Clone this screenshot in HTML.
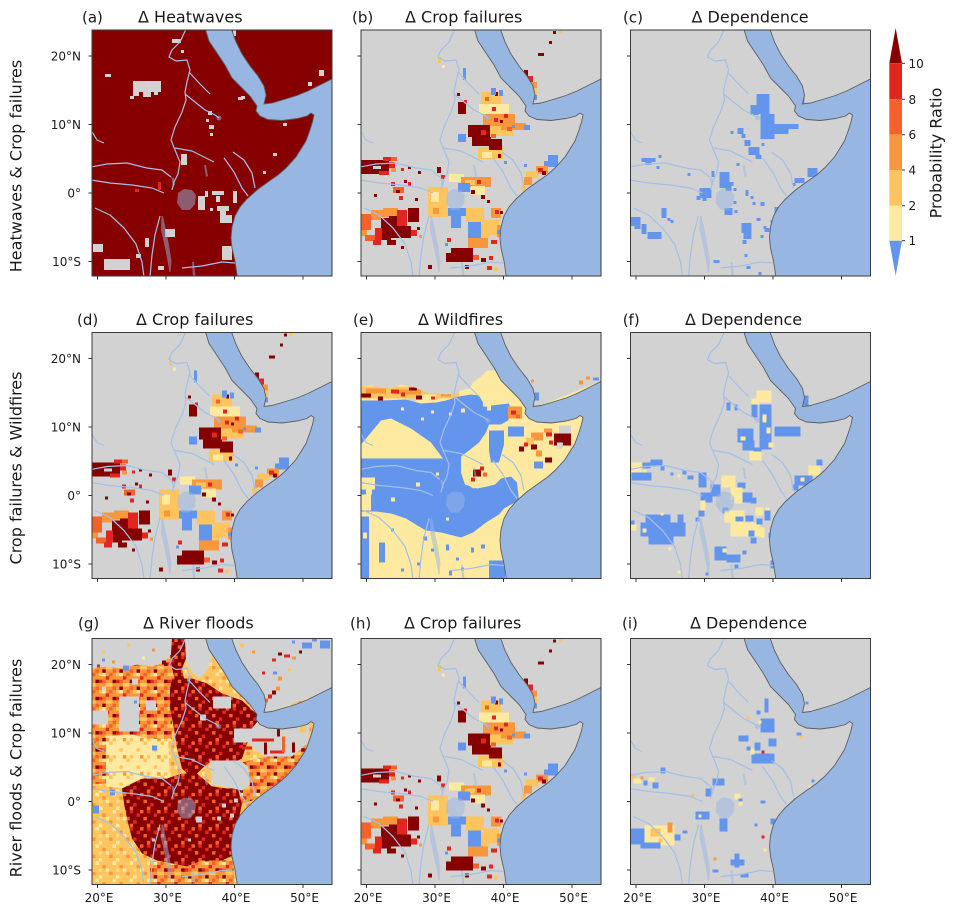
<!DOCTYPE html>
<html><head><meta charset="utf-8">
<style>
html,body{margin:0;padding:0;background:#fff;}
svg{display:block;}
text{font-family:"DejaVu Sans","Liberation Sans",sans-serif;fill:#1a1a1a;}
.D{fill:#870000}.R{fill:#e0261f}.O{fill:#f4622c}.A{fill:#f8963c}.Y{fill:#fec55f}.L{fill:#fee9a0}.B{fill:#6495ed}.G{fill:#d2d2d2}
.t{font-size:16px}.p{font-size:15px}.k{font-size:12px}
</style></head>
<body>
<svg width="953" height="913" viewBox="0 0 953 913" xmlns="http://www.w3.org/2000/svg">
<defs>
<clipPath id="cp"><rect x="0" y="0" width="240" height="246"/></clipPath>
<pattern id="pD" width="17.15" height="17.15" patternUnits="userSpaceOnUse">
<rect width="17.15" height="17.15" fill="#870000"/>
<rect x="3.43" y="0" width="3.43" height="3.43" fill="#e0261f"/><rect x="13.72" y="0" width="3.43" height="3.43" fill="#f4622c"/>
<rect x="10.29" y="3.43" width="3.43" height="3.43" fill="#e0261f"/><rect x="0" y="6.86" width="3.43" height="3.43" fill="#f4622c"/>
<rect x="6.86" y="10.29" width="3.43" height="3.43" fill="#e0261f"/><rect x="3.43" y="13.72" width="3.43" height="3.43" fill="#f4622c"/>
</pattern>
<pattern id="pO" width="17.15" height="17.15" patternUnits="userSpaceOnUse">
<rect width="17.15" height="17.15" fill="#f8963c"/>
<rect x="0" y="0" width="3.43" height="3.43" fill="#f4622c"/><rect x="6.86" y="0" width="3.43" height="3.43" fill="#fec55f"/><rect x="10.29" y="0" width="3.43" height="3.43" fill="#fee9a0"/>
<rect x="13.72" y="3.43" width="3.43" height="3.43" fill="#e0261f"/>
<rect x="3.43" y="6.86" width="3.43" height="3.43" fill="#870000"/><rect x="6.86" y="6.86" width="3.43" height="3.43" fill="#e0261f"/><rect x="10.29" y="6.86" width="3.43" height="3.43" fill="#f4622c"/>
<rect x="0" y="10.29" width="3.43" height="3.43" fill="#fec55f"/><rect x="13.72" y="10.29" width="3.43" height="3.43" fill="#fec55f"/>
<rect x="3.43" y="13.72" width="3.43" height="3.43" fill="#f4622c"/><rect x="10.29" y="13.72" width="3.43" height="3.43" fill="#870000"/>
</pattern>
<pattern id="pY" width="17.15" height="17.15" patternUnits="userSpaceOnUse">
<rect width="17.15" height="17.15" fill="#fec55f"/>
<rect x="3.43" y="0" width="3.43" height="3.43" fill="#fee9a0"/><rect x="10.29" y="3.43" width="3.43" height="3.43" fill="#f8963c"/>
<rect x="13.72" y="6.86" width="3.43" height="3.43" fill="#fee9a0"/><rect x="6.86" y="6.86" width="3.43" height="3.43" fill="#fdd887"/>
<rect x="0" y="10.29" width="3.43" height="3.43" fill="#f8963c"/><rect x="6.86" y="13.72" width="3.43" height="3.43" fill="#fee9a0"/>
</pattern>
<pattern id="pL" width="17.15" height="17.15" patternUnits="userSpaceOnUse">
<rect width="17.15" height="17.15" fill="#fee9a0"/>
<rect x="0" y="0" width="3.43" height="3.43" fill="#fec55f"/><rect x="10.29" y="6.86" width="3.43" height="3.43" fill="#fec55f"/>
<rect x="3.43" y="13.72" width="3.43" height="3.43" fill="#fec55f"/><rect x="13.72" y="13.72" width="3.43" height="3.43" fill="#f8963c"/>
</pattern>

<g id="sea">
<polygon points="113,-2 117,11 125,23 133,35 140,48 150,58 158,66 165,76 164,81 168,86 176,89.5 190,90.5 205,88.5 215,86 219,83 222,85 220.5,92 218,100 214,111 204,127 194,138 186,145 176,152 165,160 155,169 148,177 143,186 140,197 139,208 140,218 143,231 145.5,248 242,248 242,48 228,55 216,61 205,65.5 192,69.5 180,73 172,74 174,65 172,56 166,46 158,36 150,24 144,12 139,-2" fill="#98b6e2" stroke="#5e5e5e" stroke-width="0.9"/>
</g>
<g id="lakes" fill="#98b6e2" fill-opacity="0.5">
<polygon points="86,163 92,159 100,160 104,165 103,174 98,180 90,180 85,173"/>
<polygon points="69.5,186 71,186 74,200 77,215 79.5,231 78.5,242 77.5,242 75,228 72,213 69,200"/>
<polygon points="79,147 82,148 83,155 81,156"/>
<polygon points="112,135 114,135 116,146 114,147"/>
<polygon points="100,232 102,232 103.5,247 101,247"/>
<circle cx="127" cy="88" r="2.5"/>
</g>
<g id="riv" fill="none" stroke="#a4c0e8" stroke-width="1.2" stroke-linejoin="round">
<path d="M94,-1 L88,12 L80,20 L77,27 L84,31 L95,30 L98,40 L95,52 L93,62 L94,70 L90,82 L83,97 L79,110 L83,120 L88,132 L86,144 L82,152 L80,160"/>
<path d="M93,64 L103,72 L113,80 L123,85 L127,88"/>
<path d="M97,42 L108,54 L118,64"/>
<path d="M83,118 L100,121 L112,127 L122,132"/>
<path d="M-1,137 L15,134 L35,133 L55,138 L70,140 L79,147"/>
<path d="M-1,150 L18,153 L40,155 L60,158 L72,163"/>
<path d="M-1,100 L5,110 L12,113"/>
<path d="M3,178 L18,185 L32,198 L44,214 L50,232 L52,247"/>
<path d="M68,186 L63,205 L60,225 L58,247"/>
<path d="M141,122 L152,130 L160,143 L163,158"/>
<path d="M132,128 L142,142 L150,158 L156,166"/>
<path d="M90,238 L110,236 L130,232 L143,233"/>
</g>
<g id="ticks" stroke="#333" stroke-width="1">
<line x1="-3.5" y1="26" x2="0" y2="26"/><line x1="-3.5" y1="94.5" x2="0" y2="94.5"/><line x1="-3.5" y1="163" x2="0" y2="163"/><line x1="-3.5" y1="231.5" x2="0" y2="231.5"/>
<line x1="5.5" y1="246" x2="5.5" y2="249.5"/><line x1="74" y1="246" x2="74" y2="249.5"/><line x1="142.5" y1="246" x2="142.5" y2="249.5"/><line x1="211" y1="246" x2="211" y2="249.5"/>
</g>
<g id="over">
<use href="#sea"/><use href="#lakes"/><use href="#riv"/>
</g>
<g id="crop">
<rect class="G" width="240" height="246"/>
<rect class="Y" x="120" y="62" width="20" height="12"/><rect class="L" x="118" y="74" width="30" height="10"/><rect class="A" x="122" y="84" width="32" height="12"/><rect class="Y" x="126" y="96" width="26" height="10"/><rect class="A" x="140" y="93" width="25" height="7"/><rect class="Y" x="117" y="117" width="25" height="12"/><rect class="L" x="121" y="122" width="10" height="6"/>
<rect class="O" x="124" y="67" width="4" height="4"/><rect class="R" x="131" y="77" width="4" height="4"/><rect class="D" x="134" y="62" width="3" height="4"/><rect class="R" x="143" y="84" width="4" height="4"/><rect class="O" x="146" y="97" width="5" height="4"/><rect class="R" x="133" y="88" width="4" height="4"/><rect class="D" x="139" y="90" width="3" height="3"/>
<rect class="D" x="107" y="95" width="22" height="12"/><rect class="D" x="111" y="107" width="19" height="9"/><rect class="D" x="128" y="109" width="13" height="11"/><rect class="R" x="120" y="100" width="5" height="5"/><rect class="O" x="130" y="104" width="5" height="4"/><rect class="D" x="137" y="124" width="3" height="4"/>
<rect class="B" x="97" y="104" width="8" height="8"/><rect class="B" x="130" y="58" width="5" height="7"/><rect class="B" x="138" y="60" width="4" height="6"/><rect class="B" x="163" y="95" width="6" height="5"/><rect class="B" x="151" y="95" width="3" height="3"/>
<rect class="D" x="97" y="72" width="8" height="12"/><rect class="R" x="103" y="70" width="3" height="3"/><rect class="Y" x="77" y="27" width="3" height="6"/><rect class="L" x="81" y="35" width="3" height="3"/><rect class="B" x="102" y="38" width="3" height="12"/><rect class="D" x="96" y="63" width="3" height="3"/><rect class="B" x="143" y="131" width="3" height="3"/>
<rect class="D" x="163" y="40" width="4" height="6"/><rect class="R" x="164" y="46" width="8" height="6"/><rect class="A" x="166" y="52" width="10" height="6"/><rect class="Y" x="167" y="58" width="9" height="7"/><rect class="D" x="167" y="57" width="4" height="3"/><rect class="B" x="172" y="65" width="4" height="5"/><rect class="D" x="177" y="23" width="6" height="3"/><rect class="D" x="188" y="11" width="3" height="3"/><rect class="D" x="192" y="1" width="3" height="3"/><rect class="Y" x="198" y="0" width="3" height="3"/>
<rect class="B" x="187" y="125" width="10" height="12"/><rect class="B" x="183" y="131" width="4" height="5"/><rect class="A" x="175" y="136" width="12" height="8"/><rect class="R" x="177" y="138" width="5" height="4"/><rect class="D" x="181" y="141" width="4" height="4"/><rect class="Y" x="165" y="141" width="12" height="7"/><rect class="A" x="163" y="147" width="8" height="8"/><rect class="Y" x="160" y="155" width="5" height="6"/><rect class="B" x="163" y="134" width="3" height="3"/>
<rect class="D" x="0" y="130" width="28" height="14"/><rect class="R" x="22" y="127" width="8" height="4"/><rect class="O" x="30" y="127" width="6" height="4"/><rect class="R" x="28" y="132" width="6" height="6"/><rect class="A" x="30" y="138" width="5" height="4"/><rect class="R" x="18" y="141" width="10" height="4"/><rect class="G" x="12" y="136" width="8" height="3"/>
<rect class="R" x="40" y="138" width="3" height="3"/><rect class="D" x="47" y="136" width="3" height="3"/><rect class="D" x="57" y="141" width="3" height="3"/><rect class="D" x="43" y="150" width="3" height="3"/><rect class="R" x="30" y="152" width="4" height="4"/><rect class="O" x="32" y="157" width="11" height="6"/><rect class="D" x="35" y="160" width="4" height="3"/><rect class="D" x="13" y="164" width="3" height="3"/><rect class="D" x="54" y="168" width="3" height="3"/><rect class="R" x="38" y="166" width="4" height="4"/><rect class="R" x="47" y="152" width="3" height="4"/><rect class="D" x="76" y="137" width="4" height="6"/><rect class="R" x="80" y="145" width="4" height="4"/>
<rect class="Y" x="67" y="157" width="20" height="30"/><rect class="L" x="70" y="162" width="8" height="10"/><rect class="A" x="72" y="178" width="6" height="6"/><rect class="L" x="88" y="144" width="15" height="8"/><rect class="A" x="100" y="147" width="30" height="10"/><rect class="Y" x="104" y="150" width="10" height="5"/><rect class="B" x="97" y="153" width="12" height="9"/><rect class="L" x="110" y="156" width="14" height="9"/><rect class="D" x="110" y="160" width="4" height="4"/><rect class="D" x="120" y="165" width="4" height="4"/><rect class="D" x="126" y="170" width="3" height="3"/><rect class="R" x="116" y="150" width="4" height="4"/>
<rect class="B" x="87" y="178" width="18" height="8"/><rect class="B" x="90" y="186" width="10" height="12"/><rect class="Y" x="105" y="178" width="18" height="14"/><rect class="B" x="107" y="192" width="13" height="16"/><rect class="Y" x="120" y="194" width="8" height="14"/><rect class="A" x="107" y="208" width="20" height="10"/><rect class="A" x="130" y="178" width="10" height="10"/><rect class="R" x="134" y="180" width="4" height="4"/><rect class="D" x="139" y="181" width="3" height="3"/><rect class="Y" x="123" y="190" width="15" height="15"/><rect class="A" x="136" y="195" width="8" height="12"/><rect class="R" x="130" y="210" width="6" height="4"/><rect class="B" x="136" y="200" width="4" height="4"/>
<rect class="D" x="90" y="218" width="22" height="5"/><rect class="D" x="85" y="223" width="27" height="9"/><rect class="R" x="86" y="208" width="4" height="4"/><rect class="B" x="84" y="213" width="3" height="3"/><rect class="O" x="112" y="225" width="6" height="5"/><rect class="D" x="120" y="228" width="5" height="4"/><rect class="R" x="128" y="226" width="4" height="4"/><rect class="D" x="104" y="235" width="4" height="4"/><rect class="R" x="126" y="236" width="5" height="4"/><rect class="Y" x="133" y="237" width="4" height="4"/><rect class="D" x="67" y="235" width="4" height="4"/>
<rect class="O" x="0" y="184" width="10" height="16"/><rect class="A" x="10" y="180" width="12" height="10"/><rect class="A" x="22" y="178" width="15" height="9"/><rect class="R" x="36" y="180" width="10" height="8"/><rect class="D" x="20" y="188" width="10" height="22"/><rect class="D" x="28" y="186" width="8" height="10"/><rect class="D" x="30" y="196" width="20" height="12"/><rect class="R" x="14" y="198" width="7" height="12"/><rect class="R" x="36" y="188" width="10" height="8"/><rect class="D" x="47" y="178" width="11" height="14"/><rect class="R" x="50" y="200" width="6" height="6"/><rect class="D" x="56" y="197" width="3" height="3"/><rect class="A" x="0" y="200" width="6" height="6"/><rect class="O" x="4" y="205" width="10" height="6"/><rect class="R" x="12" y="210" width="8" height="5"/><rect class="D" x="26" y="210" width="9" height="5"/><rect class="D" x="40" y="216" width="3" height="3"/><rect class="A" x="58" y="205" width="3" height="3"/>
<use href="#over"/>
</g>
</defs>

<rect width="953" height="913" fill="#fff"/>

<!-- Panel a -->
<g transform="translate(92,30)">
<g clip-path="url(#cp)">
<rect class="D" width="240" height="246"/>
<rect class="G" x="41" y="51" width="28" height="11"/><rect class="G" x="41" y="62" width="6" height="4"/><rect class="G" x="51" y="62" width="8" height="5"/><rect class="G" x="62" y="62" width="4" height="3"/><rect class="G" x="38" y="66" width="4" height="3"/>
<rect class="G" x="13" y="44" width="6" height="3"/><rect class="G" x="80" y="9" width="9" height="4"/><rect class="G" x="89" y="20" width="3" height="3"/><rect class="G" x="141" y="0" width="3" height="6"/><rect class="G" x="146" y="67" width="5" height="3"/>
<rect class="G" x="116" y="81" width="4" height="4"/><rect class="G" x="114" y="89" width="3" height="3"/><rect class="G" x="117" y="95" width="5" height="4"/><rect class="G" x="118" y="103" width="3" height="3"/><rect class="G" x="89" y="124" width="6" height="11"/>
<rect class="G" x="106" y="166" width="7" height="14"/><rect class="G" x="113" y="161" width="3" height="6"/><rect class="G" x="120" y="161" width="12" height="4"/><rect class="G" x="124" y="166" width="4" height="6"/><rect class="G" x="141" y="161" width="4" height="12"/><rect class="G" x="118" y="178" width="3" height="3"/><rect class="G" x="125" y="176" width="12" height="5"/><rect class="G" x="128" y="181" width="6" height="8"/><rect class="G" x="128" y="185" width="12" height="8"/>
<rect class="G" x="73" y="199" width="10" height="8"/><rect class="G" x="130" y="216" width="10" height="14"/><rect class="G" x="1" y="214" width="10" height="8"/><rect class="G" x="12" y="229" width="26" height="11"/><rect class="G" x="53" y="208" width="4" height="9"/><rect class="G" x="44" y="224" width="5" height="4"/><rect class="G" x="66" y="236" width="6" height="4"/>
<rect class="G" x="216" y="52" width="4" height="4"/><rect class="G" x="227" y="40" width="5" height="6"/><rect class="G" x="191" y="93" width="4" height="3"/><rect class="G" x="181" y="123" width="4" height="3"/><rect class="G" x="171" y="141" width="3" height="3"/><rect class="G" x="149" y="66" width="4" height="3"/>
<rect class="R" x="43" y="159" width="4" height="3"/><rect class="R" x="66" y="152" width="3" height="8"/>
<use href="#over"/>
</g>
<rect width="240" height="246" fill="none" stroke="#3a3a3a" stroke-width="1"/>
<use href="#ticks"/>
</g>

<!-- Panel b -->
<g transform="translate(361,30)">
<g clip-path="url(#cp)"><use href="#crop"/></g>
<rect width="240" height="246" fill="none" stroke="#3a3a3a" stroke-width="1"/>
<use href="#ticks"/>
</g>

<!-- Panel c -->
<g transform="translate(630.5,30)">
<g clip-path="url(#cp)">
<rect class="G" width="240" height="246"/>
<g class="B">
<rect x="126" y="64" width="13" height="20"/><rect x="130" y="84" width="14" height="25"/><rect x="120" y="75" width="8" height="10"/><rect x="144" y="94" width="24" height="5"/><rect x="144" y="99" width="14" height="5"/><rect x="107" y="98" width="6" height="6"/><rect x="111" y="104" width="4" height="4"/><rect x="114" y="110" width="6" height="6"/><rect x="118" y="117" width="11" height="8"/><rect x="125" y="125" width="6" height="4"/><rect x="131" y="113" width="3" height="3"/><rect x="100" y="101" width="3" height="3"/>
<rect x="164" y="57" width="6" height="8"/><rect x="167" y="65" width="7" height="9"/><rect x="161" y="44" width="3" height="3"/><rect x="177" y="138" width="10" height="9"/><rect x="164" y="148" width="10" height="5"/><rect x="162" y="153" width="3" height="3"/>
<rect x="89" y="142" width="10" height="16"/><rect x="95" y="155" width="6" height="6"/><rect x="99" y="152" width="4" height="4"/><rect x="81" y="141" width="3" height="6"/><rect x="69" y="158" width="12" height="10"/><rect x="66" y="166" width="4" height="4"/><rect x="72" y="168" width="4" height="3"/><rect x="94" y="178" width="8" height="7"/><rect x="103" y="171" width="3" height="3"/><rect x="104" y="180" width="3" height="3"/><rect x="103" y="158" width="3" height="3"/><rect x="115" y="160" width="3" height="6"/><rect x="120" y="166" width="3" height="3"/><rect x="130" y="172" width="4" height="4"/><rect x="106" y="133" width="3" height="3"/><rect x="122" y="172" width="3" height="3"/>
<rect x="11" y="128" width="14" height="4"/><rect x="15" y="132" width="6" height="3"/><rect x="28" y="125" width="3" height="3"/><rect x="26" y="136" width="3" height="3"/><rect x="57" y="143" width="3" height="3"/><rect x="31" y="178" width="5" height="10"/><rect x="37" y="188" width="3" height="3"/><rect x="40" y="190" width="3" height="3"/><rect x="0" y="187" width="10" height="9"/><rect x="4" y="196" width="6" height="3"/><rect x="11" y="194" width="5" height="10"/><rect x="17" y="202" width="14" height="7"/>
<rect x="111" y="193" width="10" height="10"/><rect x="113" y="203" width="8" height="6"/><rect x="112" y="210" width="4" height="4"/><rect x="144" y="177" width="4" height="8"/><rect x="134" y="198" width="5" height="4"/><rect x="130" y="205" width="3" height="3"/><rect x="126" y="188" width="4" height="3"/><rect x="140" y="190" width="3" height="3"/><rect x="133" y="196" width="3" height="3"/><rect x="83" y="230" width="6" height="3"/><rect x="114" y="224" width="3" height="3"/><rect x="116" y="236" width="4" height="3"/><rect x="128" y="242" width="3" height="3"/>
</g>
<use href="#over"/>
</g>
<rect width="240" height="246" fill="none" stroke="#3a3a3a" stroke-width="1"/>
<use href="#ticks"/>
</g>

<!-- Panel d -->
<g transform="translate(92,332.5)">
<g clip-path="url(#cp)"><use href="#crop"/></g>
<rect width="240" height="246" fill="none" stroke="#3a3a3a" stroke-width="1"/>
<use href="#ticks"/>
</g>

<!-- Panel e -->
<g transform="translate(361,332.5)">
<g clip-path="url(#cp)">
<rect class="L" width="240" height="246"/>
<rect class="Y" x="0" y="54" width="98" height="12"/><rect class="A" x="5" y="56" width="20" height="5"/><rect class="A" x="35" y="57" width="25" height="5"/><rect class="L" x="60" y="62" width="15" height="4"/><rect class="A" x="80" y="60" width="10" height="4"/>
<rect class="D" x="0" y="61" width="10" height="4"/><rect class="D" x="17" y="64" width="5" height="4"/><rect class="R" x="30" y="57" width="8" height="4"/><rect class="D" x="48" y="55" width="8" height="3"/><rect class="D" x="55" y="63" width="6" height="4"/><rect class="R" x="40" y="60" width="4" height="4"/><rect class="R" x="70" y="64" width="4" height="3"/>
<polygon class="G" points="0,-1 242,-1 242,48 172,76 166,68 150,50 140,38 126,38 120,44 112,50 108,56 100,58 95,61 85,62 75,61 65,60 57,56 50,54 40,52 30,56 20,55 10,53 0,54"/>
<rect class="G" x="47" y="66" width="8" height="6"/>
<polygon class="B" points="0,68 20,68 45,67 60,71 75,70 85,68 98,64 110,62 118,63 122,70 130,73 148,71 151,80 147,88 140,92 128,92 125,100 118,110 108,118 100,124 100,140 104,152 116,156 126,154 134,152 140,146 150,144 156,150 158,168 150,172 143,176 138,182 125,190 112,200 100,205 80,200 65,198 58,194 45,186 30,181 15,179 0,179"/>
<polygon class="L" points="0,112 20,88 30,86 50,96 70,110 82,126 0,126"/>
<rect class="L" x="0" y="145" width="14" height="12"/><rect class="L" x="0" y="162" width="10" height="16"/><rect class="L" x="5" y="157" width="6" height="5"/>
<polygon class="L" points="103,124 130,124 133,140 128,152 112,156 104,150"/>
<rect class="L" x="122" y="66" width="8" height="12"/><rect class="L" x="100" y="76" width="4" height="4"/><rect class="L" x="88" y="80" width="3" height="3"/><rect class="L" x="70" y="78" width="3" height="3"/><rect class="L" x="60" y="85" width="3" height="3"/><rect class="L" x="40" y="75" width="3" height="3"/><rect class="L" x="55" y="150" width="4" height="4"/><rect class="L" x="75" y="140" width="3" height="3"/><rect class="L" x="30" y="165" width="4" height="4"/><rect class="L" x="85" y="185" width="3" height="3"/>
<rect class="D" x="112" y="137" width="8" height="7"/><rect class="R" x="119" y="134" width="4" height="4"/><rect class="R" x="110" y="145" width="4" height="4"/><rect class="O" x="122" y="140" width="4" height="4"/>
<rect class="B" x="0" y="184" width="8" height="62"/><rect class="L" x="2" y="200" width="4" height="6"/><rect class="B" x="18" y="210" width="6" height="20"/><rect class="B" x="128" y="228" width="16" height="18"/>
<rect class="B" x="85" y="212" width="3" height="6"/><rect class="B" x="95" y="225" width="3" height="3"/><rect class="B" x="110" y="215" width="3" height="5"/><rect class="B" x="100" y="235" width="3" height="3"/><rect class="B" x="56" y="230" width="3" height="3"/><rect class="B" x="70" y="216" width="3" height="3"/><rect class="B" x="40" y="236" width="3" height="3"/><rect class="B" x="88" y="238" width="3" height="5"/><rect class="B" x="62" y="204" width="4" height="4"/><rect class="B" x="120" y="212" width="4" height="4"/><rect class="B" x="30" y="196" width="3" height="3"/>
<polygon class="B" points="128,98 143,98 143,112 138,130 130,130 128,118"/><rect class="B" x="147" y="94" width="16" height="10"/><rect class="B" x="173" y="129" width="9" height="7"/><rect class="B" x="112" y="74" width="14" height="12"/>
<rect class="A" x="147" y="74" width="14" height="12"/><rect class="R" x="150" y="78" width="5" height="4"/><rect class="O" x="155" y="82" width="4" height="4"/>
<rect class="A" x="160" y="58" width="6" height="6"/><rect class="D" x="163" y="64" width="4" height="8"/><rect class="B" x="170" y="60" width="8" height="8"/>
<rect class="A" x="170" y="100" width="12" height="8"/><rect class="Y" x="165" y="105" width="8" height="8"/><rect class="D" x="193" y="101" width="17" height="12"/><rect class="R" x="185" y="100" width="6" height="4"/><rect class="A" x="183" y="96" width="8" height="4"/><rect class="G" x="198" y="93" width="12" height="8"/><rect class="G" x="196" y="110" width="6" height="6"/><rect class="R" x="188" y="108" width="4" height="4"/><rect class="D" x="170" y="112" width="6" height="5"/><rect class="D" x="158" y="114" width="5" height="5"/><rect class="R" x="163" y="110" width="4" height="4"/><rect class="D" x="184" y="125" width="7" height="5"/><rect class="A" x="175" y="118" width="6" height="6"/>
<rect class="A" x="218" y="48" width="4" height="4"/><rect class="A" x="225" y="44" width="4" height="3"/><rect class="B" x="232" y="45" width="6" height="3"/><rect class="A" x="170" y="47" width="3" height="3"/>
<use href="#over"/>
</g>
<rect width="240" height="246" fill="none" stroke="#3a3a3a" stroke-width="1"/>
<use href="#ticks"/>
</g>

<!-- Panel f -->
<g transform="translate(630.5,332.5)">
<g clip-path="url(#cp)">
<rect class="G" width="240" height="246"/>
<g class="B">
<rect x="121" y="70" width="6" height="15"/><rect x="129" y="72" width="12" height="45"/><rect x="144" y="94" width="26" height="10"/><rect x="107" y="96" width="16" height="14"/><rect x="112" y="108" width="12" height="10"/><rect x="123" y="115" width="8" height="5"/><rect x="96" y="70" width="4" height="8"/><rect x="104" y="72" width="3" height="6"/><rect x="168" y="63" width="10" height="10"/><rect x="186" y="127" width="6" height="6"/><rect x="164" y="143" width="18" height="10"/><rect x="162" y="152" width="6" height="6"/>
<rect x="1" y="140" width="20" height="8"/><rect x="20" y="127" width="12" height="6"/><rect x="12" y="130" width="8" height="6"/><rect x="30" y="133" width="4" height="5"/><rect x="40" y="140" width="3" height="3"/><rect x="52" y="138" width="4" height="4"/><rect x="57" y="143" width="6" height="4"/>
<rect x="68" y="140" width="8" height="15"/><rect x="80" y="152" width="10" height="12"/><rect x="95" y="148" width="4" height="4"/><rect x="107" y="150" width="8" height="6"/><rect x="112" y="160" width="10" height="10"/><rect x="120" y="165" width="6" height="6"/><rect x="70" y="160" width="12" height="10"/><rect x="68" y="178" width="6" height="6"/><rect x="65" y="185" width="4" height="4"/><rect x="92" y="175" width="6" height="6"/>
<rect x="84" y="214" width="12" height="14"/><rect x="96" y="222" width="14" height="8"/><rect x="104" y="232" width="4" height="4"/><rect x="108" y="200" width="3" height="3"/><rect x="112" y="218" width="4" height="4"/><rect x="140" y="228" width="4" height="8"/>
<rect x="15" y="182" width="25" height="10"/><rect x="10" y="190" width="45" height="14"/><rect x="18" y="204" width="25" height="8"/><rect x="47" y="182" width="6" height="10"/><rect x="0" y="188" width="4" height="4"/><rect x="75" y="240" width="3" height="3"/>
</g>
<g class="L">
<rect x="126" y="58" width="15" height="12"/><rect x="121" y="66" width="8" height="6"/><rect x="132" y="82" width="4" height="8"/><rect x="136" y="95" width="4" height="6"/><rect x="110" y="104" width="5" height="4"/><rect x="119" y="119" width="12" height="9"/><rect x="138" y="110" width="5" height="5"/><rect x="167" y="56" width="3" height="8"/><rect x="170" y="72" width="3" height="3"/><rect x="178" y="133" width="12" height="10"/><rect x="170" y="145" width="4" height="4"/>
<rect x="1" y="130" width="10" height="10"/><rect x="12" y="137" width="4" height="3"/><rect x="47" y="142" width="3" height="3"/><rect x="91" y="143" width="14" height="12"/><rect x="100" y="155" width="12" height="12"/><rect x="104" y="165" width="8" height="6"/><rect x="70" y="168" width="5" height="10"/>
<rect x="94" y="178" width="20" height="12"/><rect x="100" y="190" width="30" height="14"/><rect x="125" y="175" width="8" height="8"/><rect x="130" y="195" width="4" height="10"/><rect x="135" y="175" width="4" height="4"/><rect x="92" y="216" width="4" height="4"/><rect x="12" y="196" width="4" height="4"/><rect x="0" y="192" width="6" height="6"/><rect x="30" y="180" width="3" height="3"/><rect x="38" y="215" width="3" height="3"/><rect x="47" y="238" width="3" height="3"/>
</g>
<g class="B">
<rect x="105" y="184" width="8" height="5"/><rect x="115" y="183" width="8" height="6"/><rect x="118" y="198" width="6" height="6"/><rect x="126" y="186" width="6" height="6"/><rect x="120" y="205" width="6" height="6"/><rect x="134" y="178" width="6" height="10"/><rect x="138" y="200" width="4" height="6"/>
</g>
<use href="#over"/>
</g>
<rect width="240" height="246" fill="none" stroke="#3a3a3a" stroke-width="1"/>
<use href="#ticks"/>
</g>

<!-- Panel g -->
<g transform="translate(92,638.5)">
<g clip-path="url(#cp)">
<rect width="240" height="246" fill="url(#pY)"/>
<polygon fill="url(#pO)" points="0,30 15,28 30,30 45,26 60,28 72,24 79,16 80,100 0,100"/>
<rect fill="url(#pO)" x="0" y="100" width="14" height="45"/>
<polygon fill="url(#pL)" points="14,98 40,96 55,100 76,100 78,140 55,142 35,150 14,148"/>
<polygon fill="url(#pD)" points="79,0 93,0 94,20 90,30 92,40 84,45 80,30 78,15"/>
<polygon fill="url(#pD)" points="80,40 100,40 115,45 130,55 150,62 165,76 170,88 165,96 155,105 150,120 140,125 120,122 110,130 100,140 90,130 85,110 82,90 78,70 78,50"/>
<polygon fill="url(#pD)" points="30,150 50,140 75,140 90,135 105,135 120,148 135,150 148,150 150,165 146,185 148,200 145,215 130,222 110,222 95,228 80,225 65,222 50,215 40,200 35,180 32,165"/>
<polygon fill="url(#pO)" points="58,222 80,225 95,228 110,222 130,222 141,222 142,246 58,246"/>
<polygon class="G" points="0,-1 80,-1 79,16 72,24 60,28 45,26 30,30 15,28 0,30"/>
<polygon class="G" points="93,-1 114,-1 120,18 116,30 108,40 100,34 94,22"/>
<polygon class="G" points="135,-1 242,-1 242,50 172,76 166,66 150,44 140,20"/>
<rect class="G" x="27" y="58" width="20" height="35"/><rect class="G" x="0" y="72" width="16" height="14"/><rect class="G" x="54" y="62" width="10" height="10"/><rect class="G" x="121" y="58" width="18" height="12"/><rect class="G" x="142" y="90" width="18" height="14"/><rect class="G" x="108" y="76" width="6" height="6"/><rect class="G" x="40" y="40" width="6" height="6"/><rect class="G" x="10" y="48" width="4" height="4"/>
<polygon class="G" points="158,92 168,80 190,89 205,88 218,86 216,104 206,118 195,126 182,124 172,118 160,108 152,100"/>
<polygon fill="url(#pO)" points="148,124 175,118 200,118 214,106 218,112 206,126 196,137 186,145 176,152 165,160 150,166 146,150"/>
<polygon class="G" points="118,122 148,122 156,128 158,146 150,152 132,148 120,146"/>
<rect class="R" x="160" y="100" width="22" height="3"/><rect class="D" x="172" y="104" width="3" height="12"/><rect class="R" x="178" y="112" width="14" height="3"/><rect class="O" x="190" y="98" width="3" height="16"/><rect class="D" x="200" y="104" width="3" height="10"/><rect class="R" x="150" y="108" width="10" height="3"/><rect class="D" x="185" y="90" width="3" height="8"/><rect class="Y" x="208" y="86" width="6" height="8"/>
<rect class="R" x="176" y="56" width="4" height="4"/><rect class="O" x="170" y="60" width="6" height="4"/><rect class="D" x="180" y="52" width="4" height="4"/><rect class="A" x="184" y="48" width="4" height="4"/><rect class="R" x="166" y="64" width="4" height="6"/><rect class="A" x="186" y="38" width="4" height="4"/><rect class="D" x="186" y="14" width="4" height="3"/><rect class="R" x="192" y="16" width="6" height="3"/><rect class="A" x="200" y="18" width="4" height="3"/><rect class="D" x="207" y="12" width="3" height="3"/><rect class="R" x="180" y="20" width="4" height="3"/><rect class="Y" x="196" y="30" width="3" height="3"/><rect class="Y" x="148" y="5" width="4" height="4"/><rect class="A" x="160" y="12" width="3" height="3"/><rect class="R" x="170" y="33" width="3" height="3"/>
<rect class="B" x="1" y="167" width="6" height="8"/><rect class="B" x="18" y="151" width="5" height="6"/><rect class="B" x="60" y="107" width="5" height="5"/><rect class="B" x="31" y="27" width="6" height="5"/><rect class="B" x="210" y="4" width="10" height="6"/><rect class="B" x="228" y="2" width="10" height="8"/><rect class="B" x="220" y="0" width="5" height="3"/><rect class="B" x="200" y="2" width="3" height="3"/><rect class="B" x="181" y="33" width="4" height="3"/><rect class="B" x="10" y="20" width="3" height="3"/><rect class="B" x="42" y="62" width="3" height="3"/><rect class="B" x="95" y="40" width="3" height="3"/>
<rect class="G" x="130" y="165" width="4" height="4"/><rect class="G" x="138" y="175" width="4" height="4"/><rect class="G" x="125" y="178" width="4" height="4"/><rect class="G" x="142" y="160" width="4" height="4"/><rect class="G" x="104" y="178" width="6" height="6"/><rect class="G" x="96" y="200" width="3" height="3"/><rect class="G" x="60" y="200" width="3" height="3"/>
<rect class="Y" x="10" y="12" width="3" height="3"/><rect class="A" x="20" y="22" width="3" height="3"/><rect class="L" x="50" y="18" width="3" height="3"/><rect class="A" x="60" y="10" width="3" height="3"/><rect class="Y" x="35" y="5" width="3" height="3"/><rect class="R" x="5" y="26" width="3" height="3"/><rect class="D" x="70" y="22" width="4" height="4"/>
<use href="#over"/>
</g>
<rect width="240" height="246" fill="none" stroke="#3a3a3a" stroke-width="1"/>
<use href="#ticks"/>
</g>

<!-- Panel h -->
<g transform="translate(361,638.5)">
<g clip-path="url(#cp)"><use href="#crop"/></g>
<rect width="240" height="246" fill="none" stroke="#3a3a3a" stroke-width="1"/>
<use href="#ticks"/>
</g>

<!-- Panel i -->
<g transform="translate(630.5,638.5)">
<g clip-path="url(#cp)">
<rect class="G" width="240" height="246"/>
<rect class="B" x="130" y="80" width="14" height="14"/><rect class="B" x="121" y="115" width="23" height="10"/><rect class="B" x="108" y="97" width="10" height="6"/><rect class="B" x="134" y="60" width="4" height="14"/><rect class="B" x="126" y="72" width="4" height="4"/><rect class="B" x="138" y="100" width="8" height="8"/><rect class="B" x="124" y="104" width="6" height="8"/><rect class="B" x="116" y="108" width="4" height="4"/>
<rect class="L" x="120" y="110" width="4" height="6"/><rect class="L" x="128" y="82" width="3" height="3"/><rect class="Y" x="116" y="78" width="3" height="3"/><rect class="R" x="131" y="112" width="3" height="3"/>
<rect class="B" x="169" y="60" width="3" height="6"/><rect class="L" x="172" y="63" width="3" height="3"/><rect class="B" x="175" y="63" width="3" height="3"/><rect class="B" x="166" y="94" width="5" height="3"/><rect class="Y" x="169" y="97" width="3" height="3"/>
<rect class="B" x="0" y="190" width="17" height="16"/><rect class="L" x="14" y="187" width="30" height="20"/><rect class="Y" x="20" y="190" width="10" height="8"/><rect class="A" x="37" y="184" width="5" height="10"/><rect class="B" x="10" y="204" width="20" height="6"/><rect class="B" x="44" y="196" width="6" height="6"/><rect class="Y" x="28" y="200" width="4" height="4"/><rect class="B" x="52" y="192" width="5" height="3"/>
<rect class="Y" x="0" y="135" width="5" height="6"/><rect class="L" x="3" y="140" width="8" height="5"/><rect class="A" x="10" y="138" width="3" height="3"/><rect class="B" x="13" y="142" width="4" height="5"/><rect class="B" x="30" y="129" width="5" height="6"/><rect class="L" x="18" y="139" width="6" height="4"/><rect class="B" x="22" y="144" width="6" height="6"/>
<rect class="B" x="65" y="173" width="14" height="8"/><rect class="L" x="68" y="176" width="3" height="3"/><rect class="B" x="89" y="180" width="8" height="13"/><rect class="B" x="82" y="140" width="12" height="7"/><rect class="B" x="75" y="150" width="6" height="8"/><rect class="L" x="104" y="155" width="6" height="6"/><rect class="B" x="108" y="160" width="4" height="4"/><rect class="B" x="100" y="221" width="14" height="6"/><rect class="B" x="104" y="215" width="5" height="14"/><rect class="B" x="82" y="231" width="6" height="3"/><rect class="B" x="110" y="235" width="8" height="4"/><rect class="B" x="140" y="180" width="5" height="6"/><rect class="B" x="124" y="185" width="3" height="3"/><rect class="R" x="131" y="197" width="3" height="3"/><rect class="L" x="133" y="210" width="3" height="3"/><rect class="B" x="130" y="162" width="5" height="3"/><rect class="L" x="108" y="163" width="4" height="4"/><rect class="Y" x="61" y="155" width="3" height="3"/><rect class="A" x="83" y="219" width="3" height="3"/><rect class="B" x="181" y="141" width="3" height="3"/><rect class="L" x="178" y="147" width="3" height="3"/><rect class="B" x="163" y="160" width="3" height="3"/>
<use href="#over"/>
</g>
<rect width="240" height="246" fill="none" stroke="#3a3a3a" stroke-width="1"/>
<use href="#ticks"/>
</g>

<!-- Titles -->
<text class="p" x="82" y="22.5">(a)</text><text class="t" x="138" y="22.5">Δ Heatwaves</text>
<text class="p" x="352" y="22.5">(b)</text><text class="t" x="405" y="22.5">Δ Crop failures</text>
<text class="p" x="623" y="22.5">(c)</text><text class="t" x="691.5" y="22.5">Δ Dependence</text>
<text class="p" x="77" y="325">(d)</text><text class="t" x="136" y="325">Δ Crop failures</text>
<text class="p" x="353" y="325">(e)</text><text class="t" x="418" y="325">Δ Wildfires</text>
<text class="p" x="622.7" y="325">(f)</text><text class="t" x="685" y="325">Δ Dependence</text>
<text class="p" x="78" y="628.5">(g)</text><text class="t" x="143" y="628.5">Δ River floods</text>
<text class="p" x="350" y="628.5">(h)</text><text class="t" x="404" y="628.5">Δ Crop failures</text>
<text class="p" x="622" y="628.5">(i)</text><text class="t" x="690" y="628.5">Δ Dependence</text>

<!-- Row labels -->
<text class="t" text-anchor="middle" transform="translate(21.5,166) rotate(-90)">Heatwaves &amp; Crop failures</text>
<text class="t" text-anchor="middle" transform="translate(21.5,468) rotate(-90)">Crop failures &amp; Wildfires</text>
<text class="t" text-anchor="middle" transform="translate(21.5,768) rotate(-90)">River floods &amp; Crop failures</text>

<!-- Y tick labels -->
<g class="k" text-anchor="end">
<text x="81" y="60.5">20°N</text><text x="81" y="129">10°N</text><text x="81" y="197.5">0°</text><text x="81" y="266">10°S</text>
<text x="81" y="363">20°N</text><text x="81" y="431.5">10°N</text><text x="81" y="500">0°</text><text x="81" y="568.5">10°S</text>
<text x="81" y="669">20°N</text><text x="81" y="737.5">10°N</text><text x="81" y="806">0°</text><text x="81" y="874.5">10°S</text>
</g>
<!-- X tick labels -->
<g class="k" text-anchor="middle">
<text x="99" y="902">20°E</text><text x="167.5" y="902">30°E</text><text x="236" y="902">40°E</text><text x="304.5" y="902">50°E</text>
<text x="368" y="902">20°E</text><text x="436.5" y="902">30°E</text><text x="505" y="902">40°E</text><text x="573.5" y="902">50°E</text>
<text x="637.5" y="902">20°E</text><text x="706" y="902">30°E</text><text x="774.5" y="902">40°E</text><text x="843" y="902">50°E</text>
</g>

<!-- Colorbar -->
<polygon points="889.3,63.3 902,63.3 895.65,28" fill="#870000"/>
<rect x="889.3" y="63.3" width="12.7" height="36" fill="#e0261f"/>
<rect x="889.3" y="99.3" width="12.7" height="35.4" fill="#f4622c"/>
<rect x="889.3" y="134.7" width="12.7" height="35.3" fill="#f8963c"/>
<rect x="889.3" y="170" width="12.7" height="35.7" fill="#fec55f"/>
<rect x="889.3" y="205.7" width="12.7" height="35" fill="#fee9a0"/>
<polygon points="889.3,240.7 902,240.7 895.65,275.7" fill="#6495ed"/>
<g stroke="#333" stroke-width="1">
<line x1="902" y1="63.3" x2="905" y2="63.3"/><line x1="902" y1="99.3" x2="905" y2="99.3"/><line x1="902" y1="134.7" x2="905" y2="134.7"/><line x1="902" y1="170" x2="905" y2="170"/><line x1="902" y1="205.7" x2="905" y2="205.7"/><line x1="902" y1="240.7" x2="905" y2="240.7"/>
</g>
<g class="k">
<text x="908.5" y="67.8">10</text><text x="908.5" y="103.8">8</text><text x="908.5" y="139.2">6</text><text x="908.5" y="174.5">4</text><text x="908.5" y="210.2">2</text><text x="908.5" y="245.2">1</text>
</g>
<text class="t" text-anchor="middle" transform="translate(941.5,153) rotate(-90)">Probability Ratio</text>
</svg>
</body></html>
